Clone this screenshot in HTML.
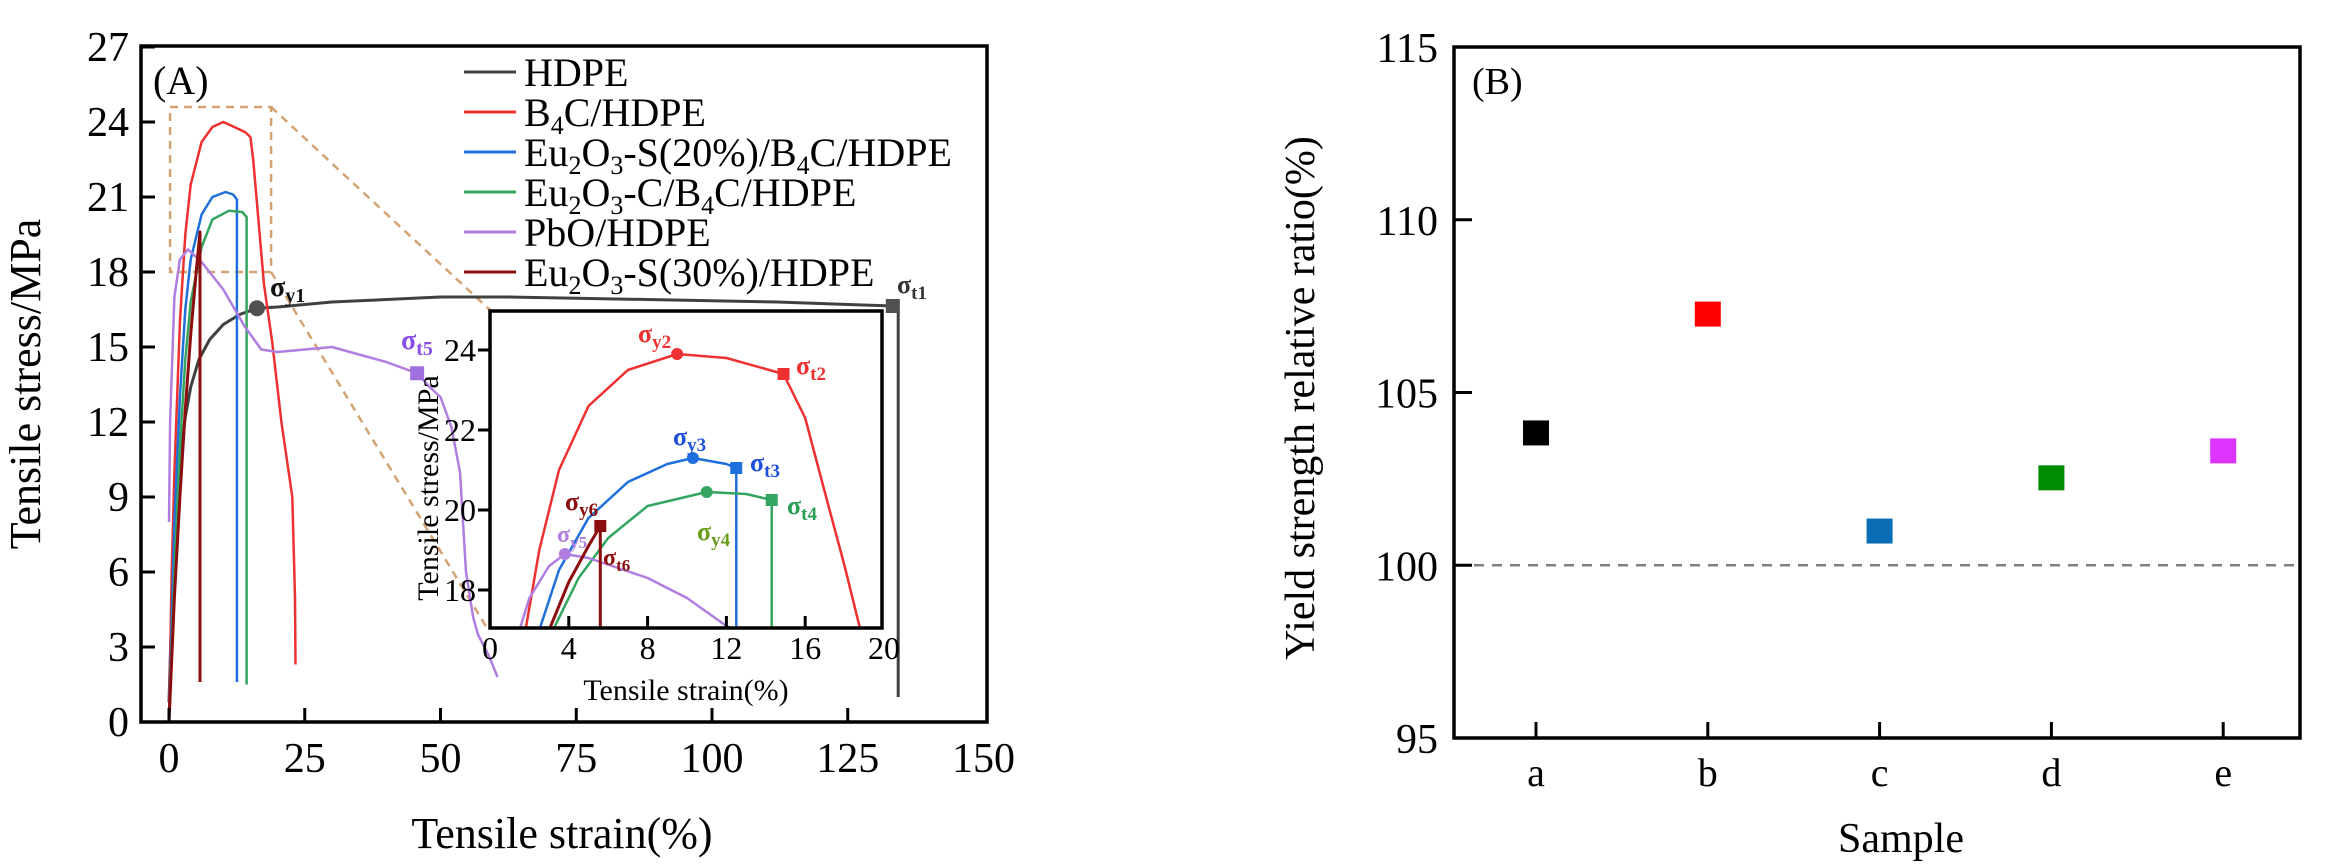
<!DOCTYPE html>
<html><head><meta charset="utf-8">
<style>
html,body{margin:0;padding:0;background:#fff;}
svg{display:block;font-family:"Liberation Serif",serif;}
</style></head>
<body>
<svg id="fig" width="2338" height="866" viewBox="0 0 2338 866" xmlns="http://www.w3.org/2000/svg"></svg>
<script>
// ---------- Panel A data (strain %, stress MPa) ----------
const hdpeX = [0,0.3,0.7,1.2,2,3,4,5.5,7.5,10,13,16.2,20,30,40,50,62,75,88,100,112,125,133.3,134.3,134.3];
const hdpeY = [0.8,3,6,8.5,10.5,12.2,13.4,14.5,15.3,15.9,16.3,16.55,16.6,16.8,16.9,17.0,17.0,16.95,16.9,16.85,16.8,16.7,16.64,16.6,1.0];
const b4cX = [0,0.5,1,2,3,4,6,8,10,12,14,15,15.5,16.5,17.5,19,20.7,22.7,23.2,23.3];
const b4cY = [0,6,10,16,19.5,21.5,23.2,23.8,24.0,23.8,23.6,23.4,22.5,20,17.5,15.2,12,9,5,2.3];
const eu20X = [0,1,2,3,4,6,8,10.4,11.8,12.5,12.5];
const eu20Y = [0,8,13,16.5,18.5,20.3,21,21.2,21.1,20.9,1.6];
const euCX = [0,1,2,3,4,6,8,11,13.5,14.3,14.3];
const euCY = [0,6,11,14.5,16.8,19,20.1,20.45,20.4,20.2,1.5];
const pboX = [0,0.2,1,2,3.5,6,10,14,17,20,25,30,35,40,45.7,48,50,52,53.6,54.7,56,56.9,59,60.5];
const pboY = [8,12,17,18.5,18.9,18.4,17.3,15.8,14.9,14.8,14.9,15.0,14.7,14.4,13.95,13.4,13.0,11.8,10,6,4.2,3.5,2.6,1.8];
const eu30X = [0,1,2,3,4,5,5.7,5.7];
const eu30Y = [0,5,9,12.5,15.5,18,19.6,1.6];
const xTicksA = [0,25,50,75,100,125,150];
const yTicksA = [0,3,6,9,12,15,18,21,24,27];
// inset data
const inRedX = [1.8,2.5,3.5,5,7,9.5,12,14.9,16,17.1,18,18.8];
const inRedY = [17,19,21,22.6,23.5,23.9,23.8,23.4,22.3,20.25,18.6,17];
const inBlueX = [2.5,3.5,5,7,9,10.3,12,12.5,12.5];
const inBlueY = [17,18.5,19.8,20.7,21.15,21.3,21.15,21.05,17];
const inGreenX = [3.2,4.5,6,8,11,13,14.3,14.3];
const inGreenY = [17,18.3,19.3,20.1,20.45,20.4,20.25,17];
const inPurpX = [1.5,2,3,3.8,5,8,10,12,12.5];
const inPurpY = [17,17.8,18.6,18.9,18.8,18.3,17.8,17.1,17];
const inDarkX = [3,4,5,5.6,5.6];
const inDarkY = [17,18.2,19.1,19.6,17];
const xTicksIn = [0,4,8,12,16,20];
const yTicksIn = [18,20,22,24];
// ---------- Panel B data ----------
const samples = ["a","b","c","d","e"];
const ratios = [103.83,107.27,100.99,102.53,103.31];
const ratioColors = ["#000000","#ff0000","#0a6db5","#008c00","#dd33ff"];
const yTicksB = [95,100,105,110,115];

const NS="http://www.w3.org/2000/svg";
const svg=document.getElementById('fig');
function el(tag,attrs,parent){const e=document.createElementNS(NS,tag);for(const k in attrs)e.setAttribute(k,attrs[k]);(parent||svg).appendChild(e);return e;}

// axes A
const ax=v=>169+5.43*v, ay=v=>722-25.0*v;
const ix=v=>490+19.7*v, iy=v=>350-40*(v-24);
const bx=i=>1536+171.8*i, by=v=>738-34.55*(v-95);

// ----- Panel A -----
const gA=el('g',{});  
function path(xs,ys,fx,fy,color,w,parent,name){
  let d='';xs.forEach((x,i)=>{d+=(i?'L':'M')+fx(x).toFixed(1)+' '+fy(ys[i]).toFixed(1);});
  const p=el('path',{d:d,fill:'none',stroke:color,'stroke-width':w,'stroke-linejoin':'round'},parent);
    return p;
}
// zoom box + guide lines
const zb=el('rect',{x:ax(0.2),y:ay(24.6),width:ax(18.8)-ax(0.2),height:ay(18)-ay(24.6),fill:'none',stroke:'#d4a373','stroke-width':2.5,'stroke-dasharray':'8,6'},gA);
 
const g1=el('line',{x1:ax(18.8),y1:ay(24.6),x2:490,y2:310,stroke:'#d4a373','stroke-width':2.5,'stroke-dasharray':'8,6'},gA);
 
const g2=el('line',{x1:ax(18.8),y1:ay(18),x2:487,y2:628,stroke:'#d4a373','stroke-width':2.5,'stroke-dasharray':'8,6'},gA);
 

path(hdpeX,hdpeY,ax,ay,'#404040',3,gA,'hdpe-curve');
path(b4cX,b4cY,ax,ay,'#ee3030',2.5,gA,'b4c-hdpe-curve');
path(eu20X,eu20Y,ax,ay,'#1f6fdc',2.5,gA,'eu2o3-s20-curve');
path(euCX,euCY,ax,ay,'#34a560',2.5,gA,'eu2o3-c-curve');
path(pboX,pboY,ax,ay,'#b07ee0',2.5,gA,'pbo-hdpe-curve');
path(eu30X,eu30Y,ax,ay,'#8b0d0d',3,gA,'eu2o3-s30-curve');
let m=el('circle',{cx:ax(16.2),cy:ay(16.55),r:8,fill:'#505050'},gA);
 
m=el('rect',{x:ax(133.3)-7,y:ay(16.64)-7,width:14,height:14,fill:'#505050'},gA);
 
m=el('rect',{x:ax(45.7)-7,y:ay(13.95)-7,width:14,height:14,fill:'#a070e0'},gA);
 

// frame A
const fA=el('rect',{x:141,y:46,width:846,height:676,fill:'none',stroke:'#000','stroke-width':3.5},gA);
 
xTicksA.forEach(v=>{
  if(v<150){const t=el('line',{x1:ax(v),y1:722,x2:ax(v),y2:708,stroke:'#000','stroke-width':3},gA);
   }
  const l=el('text',{x:ax(v),y:772,'font-size':42,'text-anchor':'middle'},gA); l.textContent=v;
   
});
yTicksA.forEach(v=>{
  const t=el('line',{x1:141,y1:ay(v),x2:155,y2:ay(v),stroke:'#000','stroke-width':3},gA);
   
  const l=el('text',{x:129,y:ay(v)+14,'font-size':42,'text-anchor':'end'},gA); l.textContent=v;
   
});
let t=el('text',{x:562,y:848,'font-size':44,'text-anchor':'middle'},gA); t.textContent='Tensile strain(%)';
 
t=el('text',{x:0,y:0,'font-size':44,'text-anchor':'middle',transform:'translate(40,384) rotate(-90)'},gA); t.textContent='Tensile stress/MPa';
 
t=el('text',{x:153,y:94,'font-size':40},gA); t.textContent='(A)';
 

// legend
const legItems=[
 ['#404040','HDPE','legend-hdpe'],
 ['#ee3030','B<tspan font-size="26" dy="8">4</tspan><tspan dy="-8">C/HDPE</tspan>','legend-b4c-hdpe'],
 ['#1f6fdc','Eu<tspan font-size="26" dy="8">2</tspan><tspan dy="-8">O</tspan><tspan font-size="26" dy="8">3</tspan><tspan dy="-8">-S(20%)/B</tspan><tspan font-size="26" dy="8">4</tspan><tspan dy="-8">C/HDPE</tspan>','legend-eu2o3-s20'],
 ['#34a560','Eu<tspan font-size="26" dy="8">2</tspan><tspan dy="-8">O</tspan><tspan font-size="26" dy="8">3</tspan><tspan dy="-8">-C/B</tspan><tspan font-size="26" dy="8">4</tspan><tspan dy="-8">C/HDPE</tspan>','legend-eu2o3-c'],
 ['#b07ee0','PbO/HDPE','legend-pbo-hdpe'],
 ['#8b0d0d','Eu<tspan font-size="26" dy="8">2</tspan><tspan dy="-8">O</tspan><tspan font-size="26" dy="8">3</tspan><tspan dy="-8">-S(30%)/HDPE</tspan>','legend-eu2o3-s30']];
legItems.forEach((it,i)=>{
  const yy=72+40*i;
  const g=el('g',{},gA);  
  el('line',{x1:464,y1:yy,x2:516,y2:yy,stroke:it[0],'stroke-width':3},g);
  const tx=el('text',{x:524,y:yy+14,'font-size':40},g); tx.innerHTML=it[1];
});
function sig(x,y,sub,color,size,name,parent){
  const tx=el('text',{x:x,y:y,'font-size':size,'font-weight':'bold',fill:color},parent);
  tx.innerHTML='σ<tspan font-size="'+Math.round(size*0.72)+'" dy="6">'+sub+'</tspan>';
   
}
sig(270,296,'y1','#111',28,'sigma-y1-label',gA);
sig(897,293,'t1','#333',26,'sigma-t1-label',gA);
sig(401,349,'t5','#8a4fe8',28,'sigma-t5-label',gA);

// ----- inset -----
const gI=el('g',{});  
const bg=el('rect',{x:490,y:311,width:392,height:317,fill:'#fff'},gI);
 
const cp=el('clipPath',{id:'inclip'},gI); el('rect',{x:490,y:311,width:392,height:317},cp);
const gc=el('g',{'clip-path':'url(#inclip)'},gI);  
path(inRedX,inRedY,ix,iy,'#ee3030',2.5,gc,'inset-b4c-curve');
path(inBlueX,inBlueY,ix,iy,'#1f6fdc',2.5,gc,'inset-eu2o3-s20-curve');
path(inGreenX,inGreenY,ix,iy,'#34a560',2.5,gc,'inset-eu2o3-c-curve');
path(inPurpX,inPurpY,ix,iy,'#b07ee0',2.5,gc,'inset-pbo-curve');
path(inDarkX,inDarkY,ix,iy,'#8b0d0d',3,gc,'inset-eu2o3-s30-curve');
function mk(type,x,y,c,name){let e;
  if(type==='c') e=el('circle',{cx:ix(x),cy:iy(y),r:6,fill:c},gI);
  else e=el('rect',{x:ix(x)-6,y:iy(y)-6,width:12,height:12,fill:c},gI);
   }
mk('c',9.5,23.9,'#ee3030','sigma-y2-marker'); mk('s',14.9,23.4,'#ee3030','sigma-t2-marker');
mk('c',10.3,21.3,'#1f6fdc','sigma-y3-marker'); mk('s',12.5,21.05,'#1f6fdc','sigma-t3-marker');
mk('c',11,20.45,'#34a560','sigma-y4-marker'); mk('s',14.3,20.25,'#34a560','sigma-t4-marker');
mk('c',3.8,18.9,'#b07ee0','sigma-y5-marker'); mk('s',5.6,19.6,'#8b0d0d','sigma-y6-marker');
sig(638,342,'y2','#ee3030',26,'sigma-y2-label',gI);
sig(796,374,'t2','#ee3030',26,'sigma-t2-label',gI);
sig(673,445,'y3','#1f4fdc',26,'sigma-y3-label',gI);
sig(750,471,'t3','#1f4fdc',26,'sigma-t3-label',gI);
sig(697,540,'y4','#6a9e1e',26,'sigma-y4-label',gI);
sig(787,514,'t4','#2c9d55',26,'sigma-t4-label',gI);
sig(565,510,'y6','#8b0d0d',26,'sigma-y6-label',gI);
sig(557,542,'y5','#b07ee0',24,'sigma-y5-label',gI);
sig(603,565,'t6','#8b0d0d',24,'sigma-t6-label',gI);
const fI=el('rect',{x:490,y:311,width:392,height:317,fill:'none',stroke:'#000','stroke-width':3.5},gI);
 
xTicksIn.forEach(v=>{
  if(v>0&&v<20){const tk=el('line',{x1:ix(v),y1:628,x2:ix(v),y2:616,stroke:'#000','stroke-width':3},gI);
   }
  const l=el('text',{x:ix(v),y:659,'font-size':32,'text-anchor':'middle'},gI); l.textContent=v;
   
});
yTicksIn.forEach(v=>{
  const tk=el('line',{x1:478,y1:iy(v),x2:490,y2:iy(v),stroke:'#000','stroke-width':3},gI);
   
  const l=el('text',{x:476,y:iy(v)+11,'font-size':32,'text-anchor':'end'},gI); l.textContent=v;
   
});
t=el('text',{x:686,y:700,'font-size':30,'text-anchor':'middle'},gI); t.textContent='Tensile strain(%)';
 
t=el('text',{x:0,y:0,'font-size':30,'text-anchor':'middle',transform:'translate(438,488) rotate(-90)'},gI); t.textContent='Tensile stress/MPa';
 

// ----- Panel B -----
const gB=el('g',{});  
const ref=el('line',{x1:1474,y1:by(100),x2:2298,y2:by(100),stroke:'#808080','stroke-width':2.5,'stroke-dasharray':'10,8'},gB);
 
samples.forEach((s,i)=>{
  const r=el('rect',{x:bx(i)-13,y:by(ratios[i])-12.5,width:26,height:25,fill:ratioColors[i]},gB);
   
  const tk=el('line',{x1:bx(i),y1:738,x2:bx(i),y2:722,stroke:'#000','stroke-width':3},gB);
   
  const l=el('text',{x:bx(i),y:786,'font-size':40,'text-anchor':'middle'},gB); l.textContent=s;
   
});
yTicksB.forEach(v=>{
  const tk=el('line',{x1:1454,y1:by(v),x2:1472,y2:by(v),stroke:'#000','stroke-width':3},gB);
   
  const l=el('text',{x:1438,y:by(v)+15,'font-size':42,'text-anchor':'end'},gB); l.textContent=v;
   
});
const fB=el('rect',{x:1454,y:47,width:846,height:691,fill:'none',stroke:'#000','stroke-width':3.5},gB);
 
t=el('text',{x:1901,y:852,'font-size':42,'text-anchor':'middle'},gB); t.textContent='Sample';
 
t=el('text',{x:0,y:0,'font-size':42,'text-anchor':'middle',transform:'translate(1314,398) rotate(-90)'},gB); t.textContent='Yield strength relative ratio(%)';
 
t=el('text',{x:1472,y:94,'font-size':38},gB); t.textContent='(B)';
 
</script>
</body></html>
